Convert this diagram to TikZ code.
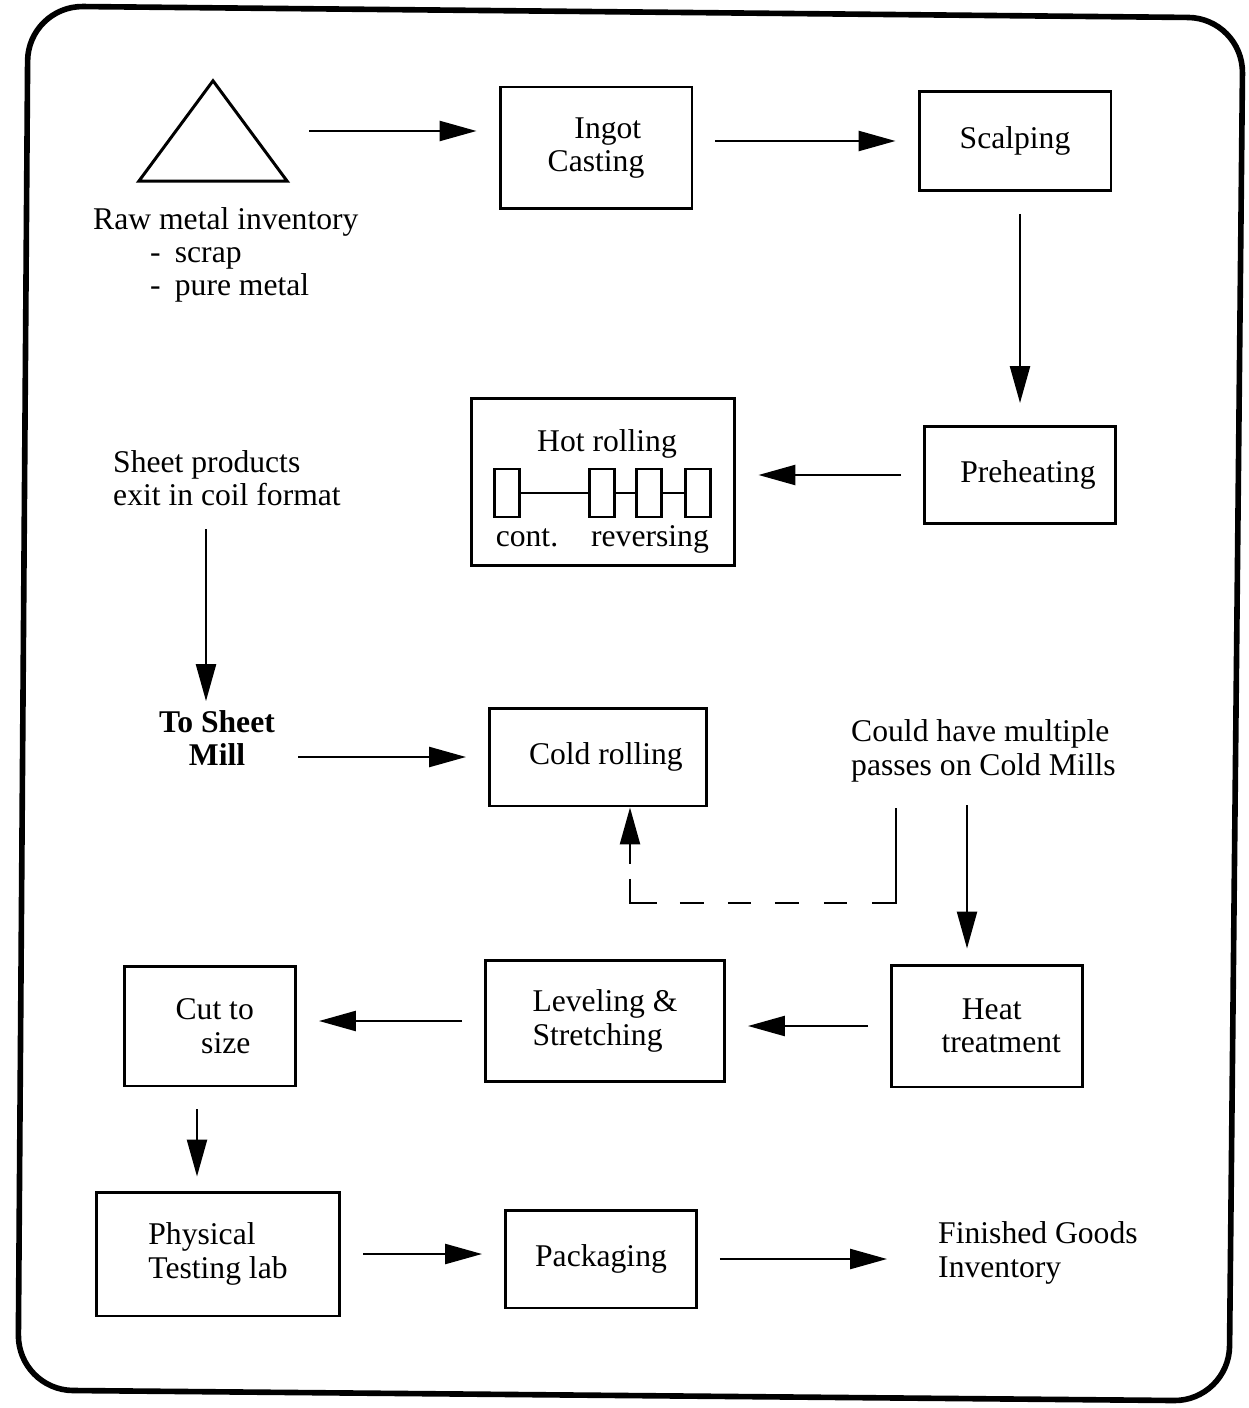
\documentclass[tikz,border=0pt]{standalone}
\usepackage{fontspec}
\setmainfont{Liberation Serif}
\usetikzlibrary{arrows.meta}

\begin{document}
\begin{tikzpicture}[x=0.02cm,y=-0.02cm,line width=1.4pt,
		>={Triangle[length=0.74cm,width=0.4cm]},
		font=\fontsize{18}{19}\selectfont,
		stage/.style={draw,line width=1.7pt,align=center,inner sep=0pt},
		label/.style={inner sep=0pt,align=left,anchor=west},
		roll/.style={draw,line width=1.7pt,minimum width=0.5cm,minimum height=0.96cm,inner sep=0pt},
		flow/.style={->,shorten <=0.44cm,shorten >=0.44cm}]
	\useasboundingbox (0,0) rectangle (1248,1408);
	\draw[line width=3.2pt,rounded corners=1.1cm] (28,6) -- (1243,18) -- (1229,1401) -- (18,1390) -- cycle;

	% raw material
	\node[minimum width=2.92cm,minimum height=1.96cm,inner sep=0pt] (raw) at (213,131) {};
	\draw[line width=1.7pt] (raw.south west) -- (raw.north) -- (raw.south east) -- cycle;
	\node[label] (rawtxt) at (92,255) {Raw metal inventory\\\hspace*{1.8em}-\hspace{0.45em}scrap\\\hspace*{1.8em}-\hspace{0.45em}pure metal};

	% stages
	\node[stage,minimum width=3.84cm,minimum height=2.44cm] (ingot) at (596,148) {\hspace*{0.75em}Ingot\\Casting};
	\node[stage,minimum width=3.84cm,minimum height=1.98cm] (scal) at (1015,141) {Scalping};
	\node[stage,minimum width=3.82cm,minimum height=1.94cm] (pre) at (1020,475) {\hspace*{0.5em}Preheating};
	\node[stage,minimum width=5.28cm,minimum height=3.36cm] (hot) at (603,482) {};
	\node[inner sep=0pt,anchor=base] (hottxt) at (607,452) {Hot rolling};
	\node[inner sep=0pt,anchor=base] (cont) at (527,546) {cont.};
	\node[inner sep=0pt,anchor=base] (rev) at (650,546) {reversing};
	\foreach \x/\n in {507/1,602/2,649/3,698/4}
		\node[roll] (r\n) at (\x,493) {};
	\draw[line width=1.7pt] (r1) -- (r2) (r2) -- (r3) (r3) -- (r4);

	\node[label] (sheet) at (112,478) {Sheet products\\exit in coil format};
	\node[inner sep=0pt,align=center,font=\fontsize{18}{19}\selectfont\bfseries] (mill) at (217,738) {To Sheet\\Mill};
	\node[stage,minimum width=4.34cm,minimum height=1.96cm] (cold) at (598,757) {\hspace*{0.5em}Cold rolling};
	\node[label] (note) at (850,751) {Could have multiple\\passes on Cold Mills};

	\node[stage,minimum width=3.82cm,minimum height=2.44cm] (heat) at (987,1026) {\hspace*{0.3em}Heat\\\hspace*{0.9em}treatment};
	\node[stage,align=left,minimum width=4.78cm,minimum height=2.42cm] (lev) at (605,1021) {Leveling \&\\Stretching};
	\node[stage,minimum width=3.42cm,minimum height=2.4cm] (cut) at (210,1026) {\hspace*{0.3em}Cut to\\\hspace*{1em}size};
	\node[stage,align=left,minimum width=4.88cm,minimum height=2.48cm] (phys) at (218,1254) {Physical\\Testing lab};
	\node[stage,minimum width=3.82cm,minimum height=1.96cm] (pack) at (601,1259) {Packaging};
	\node[label] (fin) at (937,1253) {Finished Goods\\Inventory};

	% flow of material
	\path[flow]
		(raw.east)                 edge (raw.east -| ingot.west)
		(ingot.east |- scal.west)  edge (scal.west)
		(pre.north |- scal.south)  edge (pre.north)
		(pre.west)                 edge (pre.west -| hot.east)
		([xshift=-0.22cm]mill.north |- sheet.south) edge [shorten >=0.16cm] ([xshift=-0.22cm]mill.north)
		(mill.east |- cold.west)   edge (cold.west)
		([xshift=-0.4cm]heat.north |- note.south) edge [shorten >=0.3cm] ([xshift=-0.4cm]heat.north)
		(heat.west)                edge (heat.west -| lev.east)
		(lev.west)                 edge (lev.west -| cut.east)
		([xshift=-0.26cm]cut.south) edge [shorten >=0.28cm] ([xshift=-0.26cm]cut.south |- phys.north)
		(phys.east)                edge (phys.east -| pack.west)
		(pack.east)                edge [shorten >=1cm] (pack.east -| fin.west);

	% extra passes
	\coordinate (loopa) at (896,808);
	\coordinate (loopb) at (896,903);
	\draw[<-,dash pattern=on 0.4cm off 0.3cm on 1.02cm off 0.46cm on 0.48cm off 0.48cm on 0.46cm off 0.48cm on 0.48cm off 0.5cm on 0.46cm off 0.5cm on 3cm]
		([xshift=0.64cm]cold.south) |- (loopb) -- (loopa);
\end{tikzpicture}
\end{document}
